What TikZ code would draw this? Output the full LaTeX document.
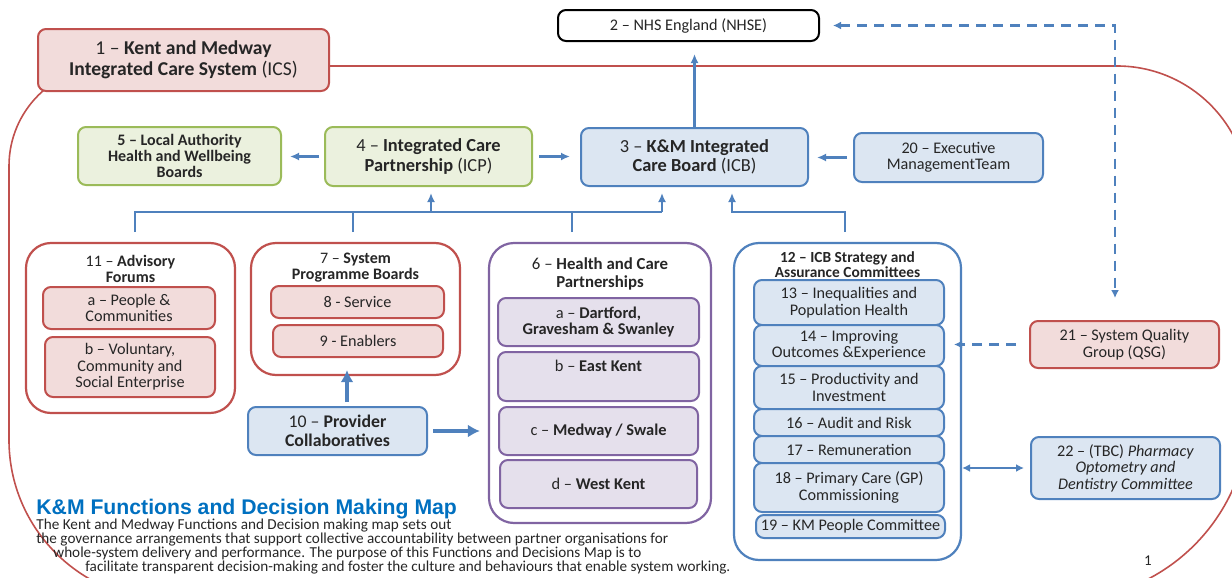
\documentclass[tikz,border=0pt]{standalone}
\usepackage{fontspec}
\setmainfont{Carlito}
\newfontfamily\headfont{Liberation Sans}
\usetikzlibrary{arrows.meta}

\definecolor{kmred}{RGB}{192,80,77}
\definecolor{kmpink}{RGB}{242,220,219}
\definecolor{kmgreen}{RGB}{155,187,89}
\definecolor{kmlime}{RGB}{235,241,222}
\definecolor{kmblue}{RGB}{79,129,189}
\definecolor{kmsky}{RGB}{220,230,242}
\definecolor{kmpurple}{RGB}{128,100,162}
\definecolor{kmlilac}{RGB}{229,224,236}
\definecolor{kmtitle}{RGB}{0,112,192}
\definecolor{kmtext}{RGB}{38,38,38}

\begin{document}
\begin{tikzpicture}
    [x=0.5pt,y=-0.5pt,
     every node/.style={text=kmtext,inner sep=0pt,align=center},
     wh/.style 2 args={minimum width=#1*0.5pt,minimum height=#2*0.5pt},
     box/.style={draw,rounded corners=4pt,line width=1pt,font=\fontsize{8.1}{8.2}\selectfont},
     redbox/.style={box,draw=kmred,fill=kmpink},
     grnbox/.style={box,draw=kmgreen,fill=kmlime},
     blubox/.style={box,draw=kmblue,fill=kmsky},
     purbox/.style={box,draw=kmpurple,fill=kmlilac},
     group/.style={draw,rounded corners=12.5pt,line width=1.1pt,fill=white},
     ttl/.style={font=\fontsize{8}{8}\selectfont\bfseries},
     link/.style={draw=kmblue,line width=1.4pt},
     arr/.style={draw=kmblue,line width=1.2pt,-{Latex[length=4.5pt,width=4pt]}},
     fat/.style={draw=kmblue,line width=2pt,-{Latex[length=6pt,width=6.5pt]}},
     dashlink/.style={draw=kmblue,line width=1.1pt,dash pattern=on 5pt off 3.5pt,
                      {Latex[length=4pt,width=4pt]}-{Latex[length=4pt,width=4pt]}},
     both/.style={draw=kmblue,line width=1.2pt,{Latex[length=4pt,width=4pt]}-{Latex[length=4pt,width=4pt]}}]
      \useasboundingbox (0,0) rectangle (1232,578);
      \clip (0,0) rectangle (1232,578);

      % system boundary
      \draw[kmred,line width=0.8pt] (1117,66) -- (109,66) arc[start angle=90,end angle=180,radius=50pt]
          -- (9,440) arc[start angle=180,end angle=270,radius=80pt]
          -- (1062,600) arc[start angle=270,end angle=360,radius=93.5pt]
          -- (1249,198) arc[start angle=0,end angle=90,radius=66pt] -- cycle;

      \node (nhse)[box,draw=black,fill=white,wh={261}{31}] at (688.5,25.5) {2 – NHS England (NHSE)};
      \node (ics)[redbox,wh={291}{62},font=\fontsize{9.8}{10.5}\selectfont] at (183.5,60)
          {1 – \textbf{Kent and Medway}\\\textbf{Integrated Care System} (ICS)};

      \node (hwb)[grnbox,wh={203}{58},font=\fontsize{8}{8.2}\selectfont\bfseries] at (179.5,156)
          {5 – Local Authority\\Health and Wellbeing\\Boards};
      \node (icp)[grnbox,wh={207}{59},font=\fontsize{9.2}{9.6}\selectfont] at (428.5,156.5)
          {4 – \textbf{Integrated Care}\\\textbf{Partnership} (ICP)};
      \node (icb)[blubox,wh={227}{58},font=\fontsize{9.2}{9.6}\selectfont] at (694.5,157)
          {3 – \textbf{K\&M Integrated}\\\textbf{Care Board} (ICB)};
      \node (emt)[blubox,wh={189}{49}] at (948.5,157.5) {20 – Executive\\ManagementTeam};

      % 11 - advisory forums
      \node (adv)[group,draw=kmred,wh={209}{170}] at (130.5,328) {};
      \node (advt)[ttl] at (130.5,269) {\textmd{11 –} Advisory\\Forums};
      \node (adva)[redbox,wh={172}{42}] at (129,308) {a – People \&\\Communities};
      \node (advb)[redbox,wh={170}{60}] at (130,367) {b – Voluntary,\\Community and\\Social Enterprise};

      % 7 - programme boards
      \node (spb)[group,draw=kmred,wh={209}{132}] at (355.5,309) {};
      \node (spbt)[ttl] at (355.5,268) {\textmd{7 –} System\\Programme Boards};
      \node (svc)[redbox,wh={173}{32}] at (357.5,302) {8 - Service};
      \node (enb)[redbox,wh={170}{32}] at (358,341) {9 - Enablers};

      \node (pc)[blubox,wh={179}{48},font=\fontsize{8.9}{9.2}\selectfont] at (337.5,431)
          {10 – \textbf{Provider}\\\textbf{Collaboratives}};

      % 6 - health and care partnerships
      \node (hcp)[group,draw=kmpurple,wh={222}{280}] at (600,383) {};
      \node (hcpt)[ttl,font=\fontsize{8.4}{8.8}\selectfont\bfseries] at (600,274) {\textmd{6 –} Health and Care\\Partnerships};
      \node (hcpa)[purbox,wh={201}{48},font=\fontsize{8.2}{8.4}\selectfont\bfseries] at (598.5,322) {\textmd{a –} Dartford,\\Gravesham \& Swanley};
      \node (hcpb)[purbox,wh={201}{49},font=\fontsize{8.2}{8.4}\selectfont\bfseries] at (598.5,376.5) {\textmd{b –} East Kent\\\strut};
      \node (hcpc)[purbox,wh={199}{48},font=\fontsize{8.2}{8.4}\selectfont\bfseries] at (598.5,431) {\textmd{c –} Medway / Swale};
      \node (hcpd)[purbox,wh={197}{48},font=\fontsize{8.2}{8.4}\selectfont\bfseries] at (598.5,484) {\textmd{d –} West Kent};

      % 12 - strategy and assurance committees
      \node (sac)[group,draw=kmblue,wh={227}{317}] at (847.5,401.5) {};
      \node (sact)[ttl,font=\fontsize{7.7}{7.6}\selectfont\bfseries] at (847.5,264.5) {12 – ICB Strategy and\\Assurance Committees};
      \node (c13)[blubox,wh={190}{45}] at (849,302.5) {13 – Inequalities and\\Population Health};
      \node (c14)[blubox,wh={190}{41}] at (849,345.5) {14 – Improving\\Outcomes \&Experience};
      \node (c15)[blubox,wh={190}{43}] at (849,387.5) {15 – Productivity and\\Investment};
      \node (c16)[blubox,wh={190}{27}] at (849,422.5) {16 – Audit and Risk};
      \node (c17)[blubox,wh={190}{27}] at (849,449.5) {17 – Remuneration};
      \node (c18)[blubox,wh={190}{49}] at (849,487.5) {18 – Primary Care (GP)\\Commissioning};
      \node (c19)[blubox,wh={189}{23}] at (850.5,526.5) {19 – KM People Committee};

      \node (qsg)[redbox,wh={189}{47}] at (1124.5,344.5) {21 – System Quality\\Group (QSG)};
      \node (pod)[blubox,wh={189}{62}] at (1125.5,468) {22 – (TBC) \textit{Pharmacy}\\\textit{Optometry and}\\\textit{Dentistry Committee}};

      % tree of links up to 3 and 4
      \coordinate (b11) at (135,232);
      \coordinate (b7)  at (353,232);
      \coordinate (b6)  at (572,232);
      \coordinate (b12) at (845,232);
      \coordinate (jl)  at (135,212);
      \coordinate (jr)  at (662,212);
      \coordinate (j4)  at (431,212);
      \coordinate (j3)  at (732,212);
      \coordinate (u10) at (347,403);
      \coordinate (qv)  at (1115,25.5);

      \draw[link] (b11) -- (jl) -- (jr);
      \foreach \b in {b7,b6}
        \draw[link] (\b) -- (\b |- jl);
      \draw[arr,shorten >=3pt] (j4) -- (j4 |- icp.south);
      \draw[arr,shorten >=3pt] (jr) -- (jr |- icb.south);
      \draw[arr,shorten >=3pt] (b12) |- (j3) -- (j3 |- icb.south);

      \draw[arr,shorten >=6pt] (icb.north) -- (icb.north |- nhse.south);
      \draw[arr,shorten <=2.5pt,shorten >=4pt] (icp.west) -- (icp.west -| hwb.east);
      \draw[arr,shorten <=3pt,shorten >=5pt] (icp.east) -- (icp.east -| icb.west);
      \draw[arr,shorten <=3pt,shorten >=4pt] (emt.west) -- (emt.west -| icb.east);

      \draw[fat,shorten <=2pt,shorten >=-3pt] (u10 |- pc.north) -- (u10 |- spb.south);
      \draw[fat,shorten <=2.5pt,shorten >=4pt] (pc.east) -- (pc.east -| hcp.west);

      \draw[dashlink,shorten <=6.5pt,shorten >=11pt] (nhse.east) -- (qv) -- (qv |- qsg.north);
      \draw[dashlink,-{Latex[length=4pt,width=4pt]},shorten <=6.5pt,shorten >=4.5pt] (qsg.west) -- (qsg.west -| c14.east);
      \draw[both,shorten >=3pt] (pod.west -| sac.east) -- (pod.west);

      % caption
      \node (cap)[anchor=base west,text=kmtitle,font=\headfont\bfseries\fontsize{10.6}{11}\selectfont] at (36,514)
          {K\&M Functions and Decision Making Map};
      \node (cap1)[anchor=base west,font=\fontsize{7.6}{7.6}\selectfont] at (36,529)
          {The Kent and Medway Functions and Decision making map sets out};
      \node (cap2)[anchor=base west,font=\fontsize{7.6}{7.6}\selectfont] at (36,543)
          {the governance arrangements that support collective accountability between partner organisations for};
      \node (cap3)[anchor=base west,font=\fontsize{7.6}{7.6}\selectfont] at (53,557)
          {whole-system delivery and performance. The purpose of this Functions and Decisions Map is to};
      \node (cap4)[anchor=base west,font=\fontsize{7.6}{7.6}\selectfont] at (85,571)
          {facilitate transparent decision-making and foster the culture and behaviours that enable system working.};
      \node (pg)[font=\fontsize{7.5}{8}\selectfont] at (1148,561) {1};
    \end{tikzpicture}
\end{document}
